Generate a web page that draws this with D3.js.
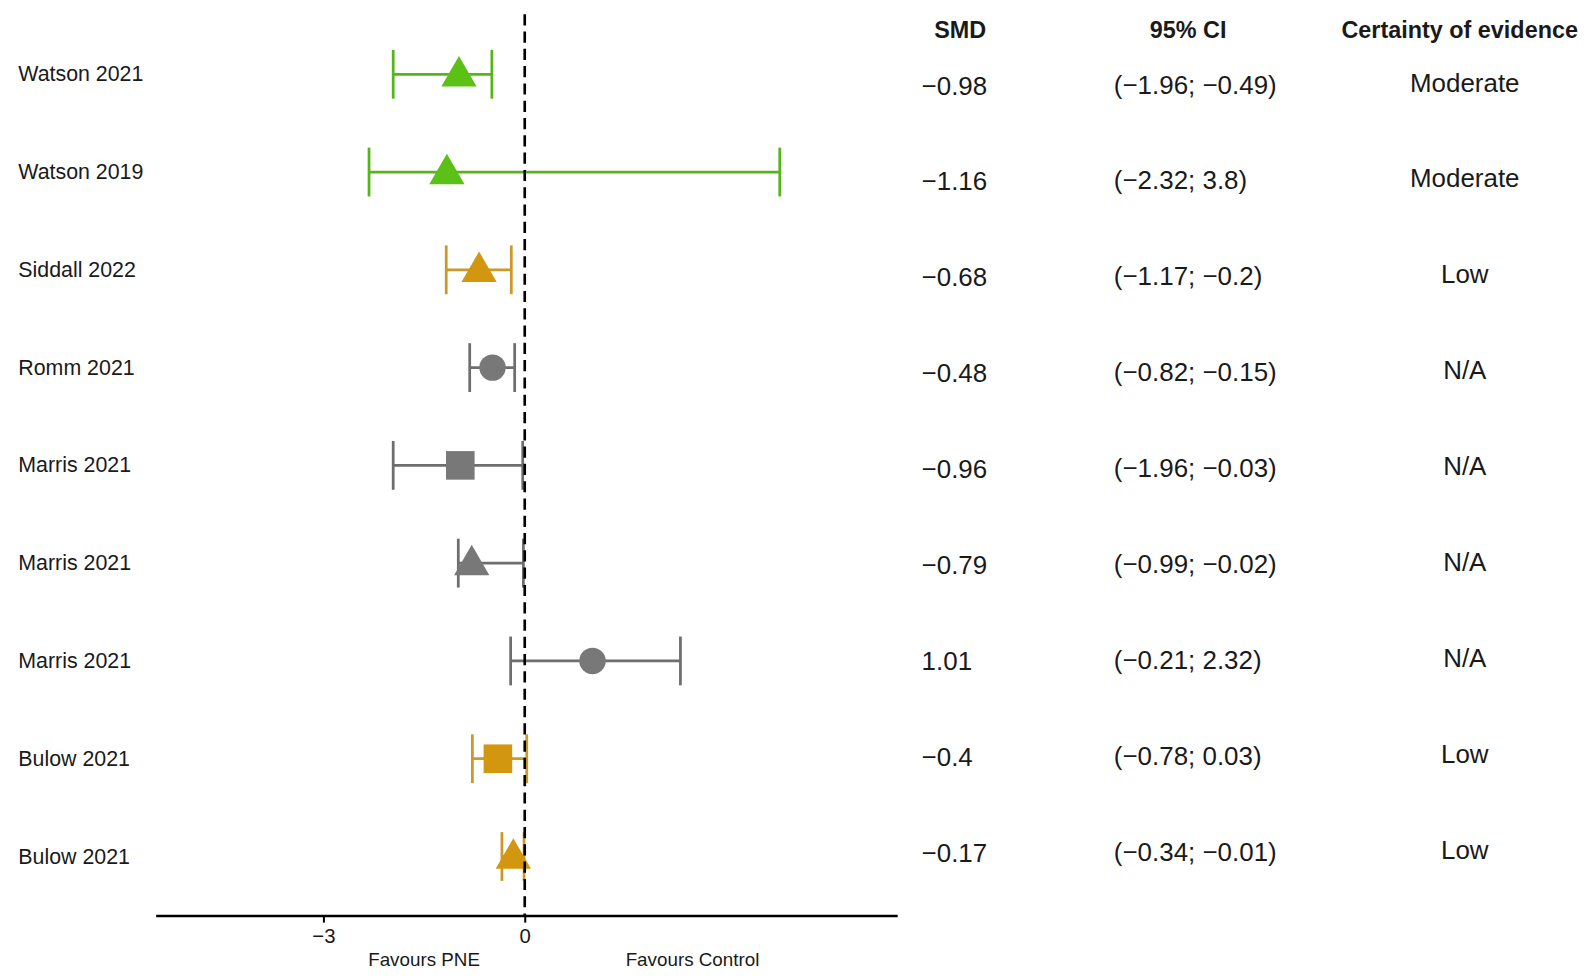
<html>
<script src='https://d3js.org/d3.v7.min.js'></script>
<style>
  body { margin: 0; background: #fff; }
  text { font-family: 'Liberation Sans', Arial, sans-serif; fill: #1a1a1a; }
</style>
<body onload='init()'>
<svg width=1595 height=980>
</svg>
<script>
// data
var studies   = ["Watson 2021","Watson 2019","Siddall 2022","Romm 2021","Marris 2021","Marris 2021","Marris 2021","Bulow 2021","Bulow 2021"];
var smd       = [-0.98, -1.16, -0.68, -0.48, -0.96, -0.79, 1.01, -0.4, -0.17];
var ciLow     = [-1.96, -2.32, -1.17, -0.82, -1.96, -0.99, -0.21, -0.78, -0.34];
var ciHigh    = [-0.49, 3.8, -0.2, -0.15, -0.03, -0.02, 2.32, 0.03, -0.01];
var certainty = ["Moderate","Moderate","Low","N/A","N/A","N/A","N/A","Low","Low"];
var shapes    = ["triangle","triangle","triangle","circle","square","triangle","circle","square","triangle"];
var xTicks    = [-3, 0];
var headers   = ["SMD", "95% CI", "Certainty of evidence"];

function init() {
  // layout was measured on a 1568px wide copy, so scale it up to the page
  var svg = d3.select("svg").append("g").attr("transform", "scale(" + (1595 / 1568) + ")");
  var idx = d3.range(studies.length);

  var x = d3.scaleLinear().domain([-5.5, 5.55]).range([153, 882]);
  var y = d3.scalePoint().domain(idx).range([73, 842]);
  var yt = d3.scalePoint().domain(idx).range([84, 838]);

  var colour = d3.scaleOrdinal()
    .domain(["Moderate", "Low", "N/A"])
    .range(["#5cc116", "#d2960f", "#787878"]);
  var lineColour = d3.scaleOrdinal()
    .domain(["Moderate", "Low", "N/A"])
    .range(["#57b51c", "#cc982a", "#6e6e6e"]);
  var sym = d3.scaleOrdinal()
    .domain(["triangle", "circle", "square"])
    .range([d3.symbolTriangle, d3.symbolCircle, d3.symbolSquare]);
  var symSize = {triangle: 520, circle: 530, square: 790};

  var fmt = v => String(v).replace("-", "\u2212");

  // study labels
  svg.append("g").selectAll("text")
    .data(idx).enter().append("text")
    .attr("x", 18)
    .attr("y", d => y(d) + 7)
    .attr("font-size", 21)
    .text(d => studies[d]);

  // whiskers
  var rows = svg.append("g").selectAll("g")
    .data(idx).enter().append("g")
    .attr("stroke", d => lineColour(certainty[d]))
    .attr("stroke-width", 2.7);
  rows.append("line")
    .attr("x1", d => x(ciLow[d])).attr("x2", d => x(ciHigh[d]))
    .attr("y1", d => y(d)).attr("y2", d => y(d));
  rows.append("line")
    .attr("x1", d => x(ciLow[d])).attr("x2", d => x(ciLow[d]))
    .attr("y1", d => y(d) - 24).attr("y2", d => y(d) + 24);
  rows.append("line")
    .attr("x1", d => x(ciHigh[d])).attr("x2", d => x(ciHigh[d]))
    .attr("y1", d => y(d) - 24).attr("y2", d => y(d) + 24);

  // point estimates
  svg.append("g").selectAll("path")
    .data(idx).enter().append("path")
    .attr("transform", d => "translate(" + x(smd[d]) + "," + (y(d) + (shapes[d] == "triangle" ? 2 : 0)) + ")")
    .attr("d", d => d3.symbol().type(sym(shapes[d])).size(symSize[shapes[d]])())
    .attr("fill", d => colour(certainty[d]));

  // axis
  var axis = svg.append("g")
    .attr("transform", "translate(0,900)")
    .call(d3.axisBottom(x).tickValues(xTicks).tickSize(7).tickSizeOuter(0).tickFormat(fmt));
  axis.select(".domain").attr("stroke", "#000").attr("stroke-width", 2.6);
  axis.selectAll(".tick line").attr("stroke", "#000").attr("stroke-width", 2);
  axis.selectAll(".tick text").attr("font-size", 20).attr("fill", "#1a1a1a")
    .attr("font-family", "'Liberation Sans', Arial, sans-serif").attr("dy", "0.85em");

  svg.append("text").attr("x", x(-1.5)).attr("y", 950).attr("text-anchor", "middle")
    .attr("font-size", 18.5).text("Favours PNE");
  svg.append("text").attr("x", x(2.5)).attr("y", 950).attr("text-anchor", "middle")
    .attr("font-size", 18.5).text("Favours Control");

  // null line on top
  svg.append("line")
    .attr("x1", x(0)).attr("x2", x(0))
    .attr("y1", 14).attr("y2", 900)
    .attr("stroke", "#000").attr("stroke-width", 2.6)
    .attr("stroke-dasharray", "11,6");

  // table
  var colX = [944, 1168, 1435];
  svg.append("g").selectAll("text")
    .data(headers).enter().append("text")
    .attr("x", (d, i) => colX[i]).attr("y", 37)
    .attr("text-anchor", "middle")
    .attr("font-size", 23).attr("font-weight", "bold")
    .text(d => d);

  svg.append("g").selectAll("text")
    .data(idx).enter().append("text")
    .attr("x", 906).attr("y", d => yt(d) + 9)
    .attr("font-size", 25.5)
    .text(d => fmt(smd[d]));

  svg.append("g").selectAll("text")
    .data(idx).enter().append("text")
    .attr("x", 1095).attr("y", d => yt(d) + 8)
    .attr("font-size", 25.5)
    .text(d => "(" + fmt(ciLow[d]) + "; " + fmt(ciHigh[d]) + ")");

  svg.append("g").selectAll("text")
    .data(idx).enter().append("text")
    .attr("x", 1440).attr("y", d => yt(d) + 6)
    .attr("text-anchor", "middle")
    .attr("font-size", 25.5)
    .text(d => certainty[d]);
}
</script>
</body>
</html>
